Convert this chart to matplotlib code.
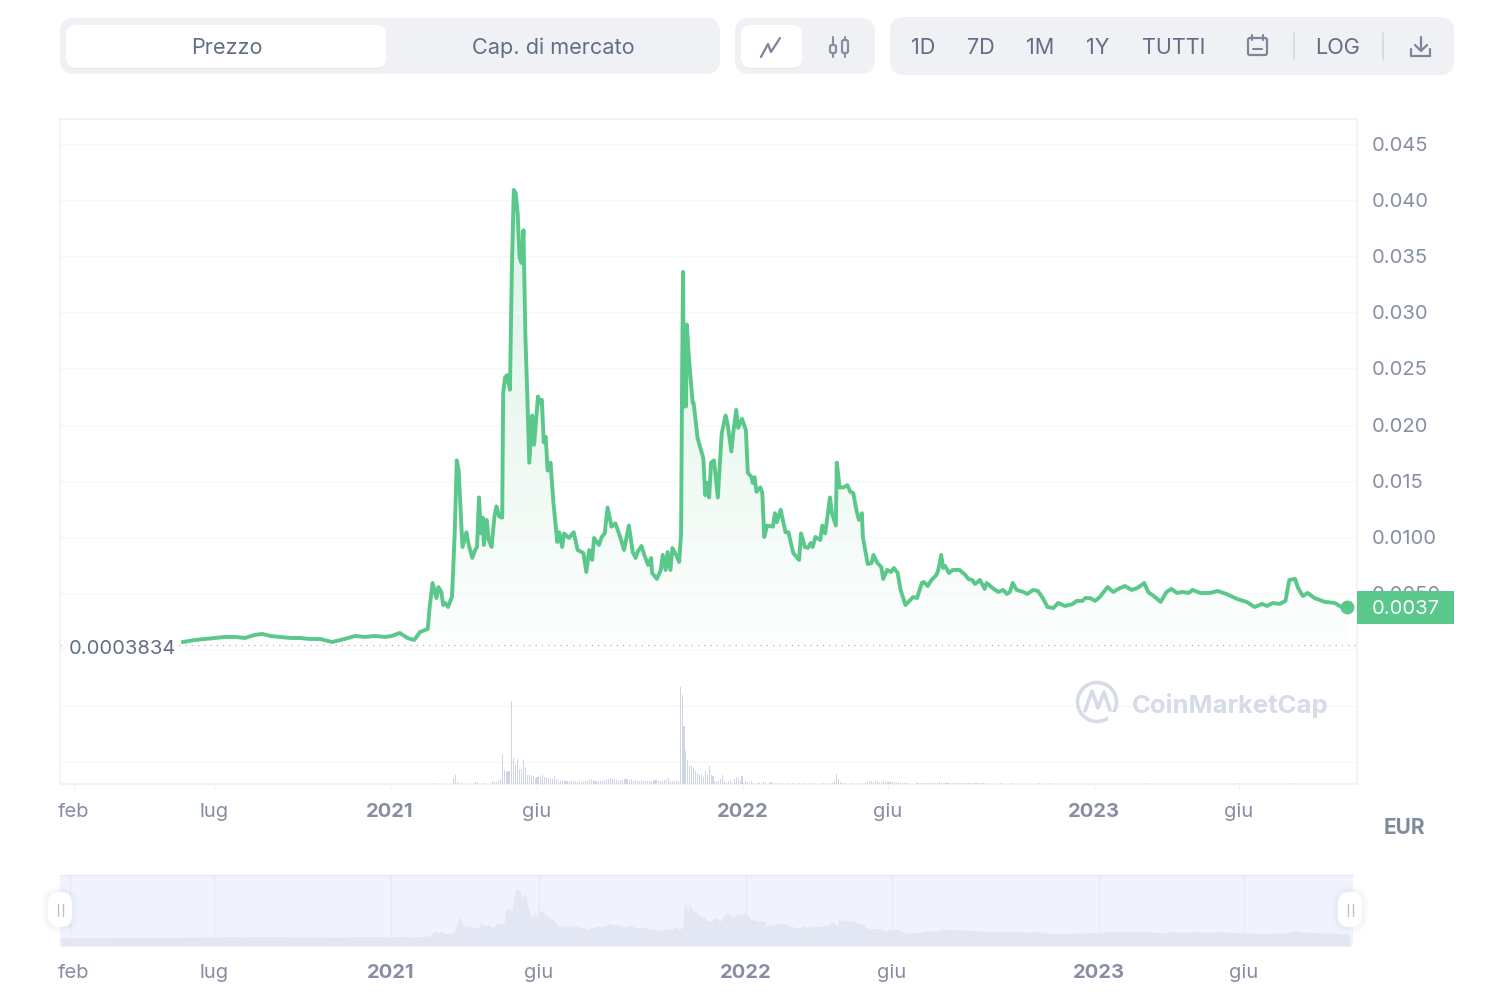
import numpy as np
import matplotlib.pyplot as plt
from matplotlib.patches import FancyBboxPatch, Rectangle, Polygon, Circle

plt.rcParams['font.family'] = ['Inter', 'DejaVu Sans']

# ---- Data ----
# days since 2021-01-01, price in thousandths of EUR
days = [-214, -202, -191, -181, -171, -160, -150, -140, -132, -124, -114, -103, -93, -83, -72, -60, -47, -36, -26, -16, -5, 2, 10, 18, 25, 31, 39,
        41, 44, 48, 50, 53, 55, 57, 60, 64, 65, 67, 69, 71, 74, 75, 79, 81, 85, 88, 90, 92, 94, 96, 97, 100, 102, 105, 108, 110, 113, 116,
        117, 119, 121, 124, 126, 128, 130, 132, 134, 136, 138, 140, 142, 144, 147, 149, 153, 155, 157, 159, 161, 163, 166, 169, 173, 175, 178,
        180, 185, 190, 194, 200, 203, 206, 209, 211, 216, 219, 222, 225, 229, 233, 238, 242, 247, 251, 254, 256, 260, 263, 267, 270, 271, 276,
        280, 282, 285, 287, 290, 292, 295, 299, 301, 302, 303, 304, 305, 306, 307, 309, 313, 314, 318, 324, 326, 328, 330, 332, 335, 339, 343,
        347, 349, 353, 355, 358, 360, 364, 368, 370, 374, 375, 377, 379, 383, 385, 387, 390, 396, 398, 400, 404, 409, 412, 417, 423, 425, 429,
        432, 435, 437, 440, 445, 447, 450, 455, 457, 461, 462, 465, 469, 473, 476, 479, 483, 485, 488, 489, 494, 498, 500, 504, 508, 510, 514,
        518, 521, 525, 528, 533, 536, 541, 545, 550, 552, 556, 560, 565, 567, 570, 572, 574, 578, 582, 589, 595, 598, 602, 605, 610, 615, 617,
        623, 629, 634, 638, 641, 644, 648, 655, 659, 665, 670, 675, 680, 686, 691, 698, 706, 710, 716, 719, 724, 729, 734, 742, 748, 753, 760,
        767, 773, 780, 784, 791, 797, 803, 808, 814, 820, 826, 830, 838, 848, 856, 865, 876, 886, 894, 902, 907, 913, 920, 926, 930, 936, 939,
        944, 949, 956, 967, 977, 984, 990]
price = [.62, .80, .89, .98, 1.07, 1.07, .98, 1.25, 1.34, 1.16, 1.07, .98, .98, .89, .89, .62, .89, 1.16, 1.07, 1.16, 1.07, 1.16, 1.43, .98, .80, 1.51, 1.78,
         3.74, 5.88, 4.54, 5.52, 5.08, 3.92, 4.10, 3.74, 4.63, 6.42, 10.6, 16.8, 15.9, 10.6, 9.09, 10.4, 9.44, 8.11, 8.82, 9.09, 13.5, 10.3, 11.7, 9.27, 11.5, 9.71, 9.09, 11.8, 12.7, 11.8, 11.7,
         22.8, 24.2, 24.4, 23.1, 33.8, 40.9, 40.6, 38.8, 34.9, 34.4, 37.3, 27.8, 22.5, 16.6, 20.8, 18.2, 22.5, 21.9, 22.2, 18.4, 18.9, 15.9, 16.6, 13.0, 9.53, 10.4, 9.09,
         10.3, 9.89, 10.4, 8.82, 8.55, 6.86, 8.82, 7.93, 9.89, 9.27, 9.98, 10.3, 12.6, 10.9, 11.2, 9.98, 8.82, 11.0, 8.64, 8.11, 8.64, 9.18, 8.38, 7.48, 8.11, 6.77, 6.24,
         7.04, 8.38, 7.04, 8.64, 7.04, 9.00, 8.55, 7.75, 10.3, 23.7, 33.6, 21.6, 28.9, 21.6, 28.9, 26.0, 21.9, 21.9, 18.8, 17.0, 13.7, 14.8, 13.5, 16.6, 16.8, 13.5, 19.2,
         20.8, 20.1, 17.6, 19.3, 21.3, 19.7, 20.5, 19.5, 15.7, 15.3, 14.8, 15.3, 14.0, 14.4, 13.9, 9.98, 11.0, 10.9, 12.1, 11.3, 12.4, 10.4, 10.4, 8.55, 7.93, 10.3, 9.09,
         9.00, 9.44, 9.09, 9.98, 9.71, 11.0, 10.3, 13.5, 12.1, 11.0, 16.6, 14.4, 14.4, 14.6, 14.0, 13.9, 12.1, 11.5, 12.1, 9.98, 7.57, 7.66, 8.38, 7.66, 7.31, 6.24, 7.04,
         6.86, 7.22, 6.77, 5.26, 3.92, 4.19, 4.63, 4.54, 5.88, 5.97, 5.61, 6.15, 6.59, 7.04, 8.38, 7.22, 7.40, 6.77, 7.04, 7.04, 6.59, 6.24, 6.15, 5.79, 6.15, 5.35, 5.88,
         5.44, 5.08, 5.26, 4.90, 5.08, 5.88, 5.26, 5.08, 4.90, 5.26, 5.17, 4.54, 3.74, 3.65, 4.10, 3.83, 4.01, 4.28, 4.28, 4.54, 4.54, 4.28, 4.63, 5.52, 5.08, 5.35, 5.61,
         5.26, 5.44, 5.88, 5.08, 4.63, 4.19, 5.08, 5.35, 4.99, 5.08, 4.99, 5.26, 4.99, 4.99, 5.17, 4.90, 4.46, 4.19, 3.74, 4.01, 3.83, 4.10, 4.01, 4.28, 6.15, 6.24, 5.44,
         4.72, 4.99, 4.54, 4.19, 4.10, 3.74, 3.70]

# relative volume (no scale in the picture), one bar every 2 days from day 66
volume = [6, 9, 2, 0, 1, 0, 0, 0, 0, 0, 0, 2, 2, 0, 0, 0, 1, 0, 0, 0, 3, 2, 2, 4, 4,
          30, 14, 12, 13, 13, 83, 26, 19, 25, 15, 15, 24, 17, 9, 9, 9, 8, 6, 7, 8, 7, 9, 7, 6, 6, 5, 5, 8, 5, 4,
          3, 3, 3, 3, 3, 3, 3, 3, 3, 2, 3, 2, 3, 3, 4, 4, 5, 4, 3, 3, 3, 3, 4, 4, 5, 5, 6, 5, 4, 4,
          3, 4, 4, 5, 5, 5, 4, 5, 3, 4, 3, 3, 4, 3, 3, 3, 3, 3, 3, 4, 4, 3, 3, 3, 4, 4, 6, 3, 3, 3, 3, 3,
          97, 89, 58, 33, 24, 18, 18, 16, 13, 11, 9, 9, 7, 13, 9, 18, 9, 8, 3, 3, 3, 5, 9, 3, 1, 3, 4, 1, 5, 7, 6, 3, 8, 1, 3, 2, 1, 3, 1, 0, 1, 2, 0, 3,
          1, 0, 1, 2, 0, 1, 0, 1, 0, 1, 0, 0, 1, 0, 1,
          0, 0, 1, 0, 0, 1, 0, 0, 1, 0, 1, 0, 0, 0, 0, 1, 0, 0, 1, 0, 1,
          3, 10, 5, 2, 1, 1, 0, 0, 0, 1, 0, 0, 1, 0, 0, 0,
          2, 2, 3, 3, 2, 3, 3, 2, 2, 3, 2, 2, 2, 2, 2, 2, 1, 2, 1, 1, 1, 1, 1,
          0, 0, 0, 1, 1, 0, 1, 1, 1, 1, 2, 1, 1, 1, 1, 2, 1, 1, 2, 1, 1, 1, 1, 1, 1, 2, 1, 1, 1, 1,
          1, 1, 1, 1, 1, 1, 1, 1, 1, 1]
tail_days = [45, 631, 643, 672, 682, 781, 877, 931]
tail_volume = [1, 1, 1, 1, 1, 1, 1, 1]

# the navigator starts before the main line does
nav_lead_days = [-343, -280]
nav_lead_price = [0.35, 0.50]

y_ticks = [0.005, 0.010, 0.015, 0.020, 0.025, 0.030, 0.035, 0.040, 0.045]
y_labels = ['0.0050', '0.0100', '0.015', '0.020', '0.025', '0.030', '0.035', '0.040', '0.045']
x_ticks = [-327, -182, 0, 152, 365, 515, 728, 878]
nav_ticks = [-329, -184, -1, 152, 366, 517, 731, 881]
x_labels = ['feb', 'lug', '2021', 'giu', '2022', 'giu', '2023', 'giu']
min_price = 0.0003834
last_price = 0.0037

GREEN = '#5ac78b'
GRID = '#f5f6f8'
FRAME = '#f0f1f4'
TICK = '#868ea3'
BTN = '#616e85'
W, H = 1510, 1008


def rect_px(x0, y0, x1, y1):
    # pixel box (y from the top) to a figure rectangle
    return [x0 / W, 1 - y1 / H, (x1 - x0) / W, (y1 - y0) / H]


days = np.array(days, dtype=float)
price = np.array(price) / 1000

fig = plt.figure(figsize=(W / 100, H / 100), dpi=100)

# ---- Price axes ----
ax = fig.add_axes(rect_px(60, 119, 1357, 784))
ax.set_xlim(-341.3, 1000)
ax.set_ylim(-0.01203, 0.04722)
ax.yaxis.tick_right()
ax.set_yticks(y_ticks, y_labels)
ax.set_xticks(x_ticks, x_labels)
ax.tick_params(axis='y', length=0, pad=10.5, labelsize=14.5, labelcolor=TICK)
ax.tick_params(axis='x', length=4.5, width=0.8, color=FRAME, pad=9.3, labelsize=14.5, labelcolor=TICK)
for lab in ax.get_xticklabels():
    if lab.get_text().startswith('20'):
        lab.set_fontweight('bold')
for s in ax.spines.values():
    s.set_color(FRAME)
    s.set_linewidth(1.2)
ax.grid(axis='y', color=GRID, lw=1)
ax.axhline(0, color=GRID, lw=1)

# gradient under the line, clipped to the area
poly_x = np.r_[days[0], days, days[-1]]
poly_y = np.r_[min_price, price, min_price]
clip = Polygon(np.c_[poly_x, poly_y], closed=True, transform=ax.transData, fc='none', ec='none')
ax.add_patch(clip)
grad = np.zeros((256, 2, 4))
grad[..., :3] = plt.matplotlib.colors.to_rgb(GREEN)
grad[..., 3] = np.linspace(0.22, 0.015, 256)[:, None]
im = ax.imshow(grad, extent=(days[0], days[-1], min_price, price.max()), aspect='auto', zorder=1, interpolation='bilinear')
im.set_clip_path(clip)
ax.set_xlim(-341.3, 1000)
ax.set_ylim(-0.01203, 0.04722)

ax.axhline(min_price, color='#a9b0bf', lw=0.9, ls=(0, (1, 4)), zorder=1.5)
ax.plot(days, price, color=GREEN, lw=2.8, solid_joinstyle='round', zorder=3)
ax.plot(days[-1], last_price, 'o', color=GREEN, ms=10, mec='none', zorder=4)

# ---- Volume bars ----
ax_vol = fig.add_axes(rect_px(60, 684, 1357, 784), sharex=ax)
ax_vol.patch.set_alpha(0)
ax_vol.axis('off')
ax_vol.set_ylim(0, 100)
vol_days = 66 + 2 * np.arange(len(volume))
ax_vol.bar(vol_days, volume, width=1.1, color='#cfd5e3')
ax_vol.bar(tail_days, tail_volume, width=1.1, color='#cfd5e3')
ax_vol.hlines([22.5, 78.5], -341.3, 1000, color=GRID, lw=1, zorder=0)

# ---- Navigator ----
nav = fig.add_axes(rect_px(60, 875, 1353, 946))
nav.set_facecolor('#f0f3fd')
nav.set_xlim(-343.3, 993.6)
nav.set_ylim(-0.0066, 0.0526)
nav_x = np.r_[nav_lead_days, days]
nav_y = np.r_[np.array(nav_lead_price) / 1000, price]
nav.fill_between(nav_x, nav_y, -0.0066, color='#e3e7f4', lw=0)
nav.vlines([-333] + nav_ticks[1:], -0.0066, 0.0526, color='#e6e9f4', lw=0.8, zorder=0.5)
nav.set_yticks([])
nav.set_xticks(nav_ticks, x_labels)
nav.tick_params(axis='x', length=0, pad=13, labelsize=14.5, labelcolor=TICK)
for lab in nav.get_xticklabels():
    if lab.get_text().startswith('20'):
        lab.set_fontweight('bold')
for name, s in nav.spines.items():
    s.set_visible(name == 'top')
    s.set_color('#e3e8f7')

# ---- Page furniture in pixel coordinates ----
ui = fig.add_axes([0, 0, 1, 1], zorder=10)
ui.set_xlim(0, W)
ui.set_ylim(H, 0)
ui.axis('off')
ui.patch.set_alpha(0)


def box(x0, y0, x1, y1, r, color, **kw):
    ui.add_patch(FancyBboxPatch((x0, y0), x1 - x0, y1 - y0, boxstyle=f'round,pad=0,rounding_size={r}',
                                fc=color, ec='none', **kw))


def stroke(xs, ys, color=TICK, lw=1.5):
    ui.plot(xs, ys, color=color, lw=lw, solid_capstyle='round', solid_joinstyle='round')


box(60, 18, 720, 74, 14, FRAME)
box(66, 26, 386, 69, 10, '#e3e6ee')
box(66, 25, 386, 68, 10, 'white')
box(735, 18, 875, 74, 14, FRAME)
box(741, 26, 802, 69, 10, '#e3e6ee')
box(741, 25, 802, 68, 10, 'white')
box(890, 17, 1454, 75, 14, FRAME)

ui.text(227, 48, 'Prezzo', color=BTN, fontsize=15.6, ha='center', va='center')
ui.text(553, 48, 'Cap. di mercato', color=BTN, fontsize=15.6, ha='center', va='center')
for label, cx in [('1D', 923), ('7D', 981), ('1M', 1040), ('1Y', 1098), ('TUTTI', 1174), ('LOG', 1338)]:
    ui.text(cx, 48, label, color=BTN, fontsize=15.6, ha='center', va='center')

# icons
stroke([761, 768, 771, 780], [57, 44, 52, 38], color='#7c859b', lw=1.6)
for cx, y0, y1 in [(833, 45, 53), (845, 40, 53)]:
    stroke([cx, cx], [37, 57], lw=1.5)
    ui.add_patch(FancyBboxPatch((cx - 3, y0), 6, y1 - y0, boxstyle='round,pad=0,rounding_size=2',
                                fc=FRAME, ec=TICK, lw=1.6, zorder=3))
ui.add_patch(FancyBboxPatch((1248, 38), 19, 17, boxstyle='round,pad=0,rounding_size=2', fc='none', ec='#7c859b', lw=1.6))
stroke([1252, 1252], [35, 40], color='#7c859b')
stroke([1263, 1263], [35, 40], color='#7c859b')
stroke([1253, 1262], [49, 49], color='#7c859b')
stroke([1294, 1294], [33, 60], color='#d0d5e0', lw=1.1)
stroke([1383, 1383], [33, 60], color='#d0d5e0', lw=1.1)
stroke([1421, 1421], [37, 50], color='#7c859b', lw=1.6)
stroke([1415, 1421, 1427], [45, 51, 45], color='#7c859b', lw=1.6)
stroke([1411, 1411, 1430, 1430], [49, 56, 56, 49], color='#7c859b', lw=1.6)

# price tags
ui.add_patch(Rectangle((1357, 591), 97, 33, fc=GREEN, ec='none'))
ui.text(1406, 609, f'{last_price:.4f}', color='white', fontsize=14.5, ha='center', va='center')
ui.add_patch(Rectangle((64, 636), 114, 22, fc='white', ec='none', alpha=0.85))
ui.text(69, 649, f'{min_price:.7f}', color=BTN, fontsize=14.5, ha='left', va='center')
ui.text(1404, 828, 'EUR', color='#808a9d', fontsize=15, fontweight='bold', ha='center', va='center')

# watermark
WM = '#d6dbe8'
ui.add_patch(Circle((1097, 702), 19.5, fc='none', ec=WM, lw=2.6))
stroke([1085, 1092, 1098, 1104, 1110], [711, 691, 708, 692, 710], color=WM, lw=2.6)
ui.add_patch(Rectangle((1108, 712), 12, 14, fc='white', ec='none'))
ui.text(1132, 705, 'CoinMarketCap', color=WM, fontsize=18.5, fontweight='bold', ha='left', va='center')

# navigator handles
for cx in [60, 1350]:
    for grow, alpha in [(6, 0.03), (3, 0.05)]:
        box(cx - 12 - grow, 892 - grow, cx + 12 + grow, 927 + grow, 12 + grow, '#8a94b0', alpha=alpha)
    box(cx - 12, 892, cx + 12, 927, 11, 'white')
    stroke([cx - 2.5, cx - 2.5], [904, 916], color='#b9bfcc', lw=1)
    stroke([cx + 2.5, cx + 2.5], [904, 916], color='#b9bfcc', lw=1)

plt.savefig('out.png', dpi=100)
